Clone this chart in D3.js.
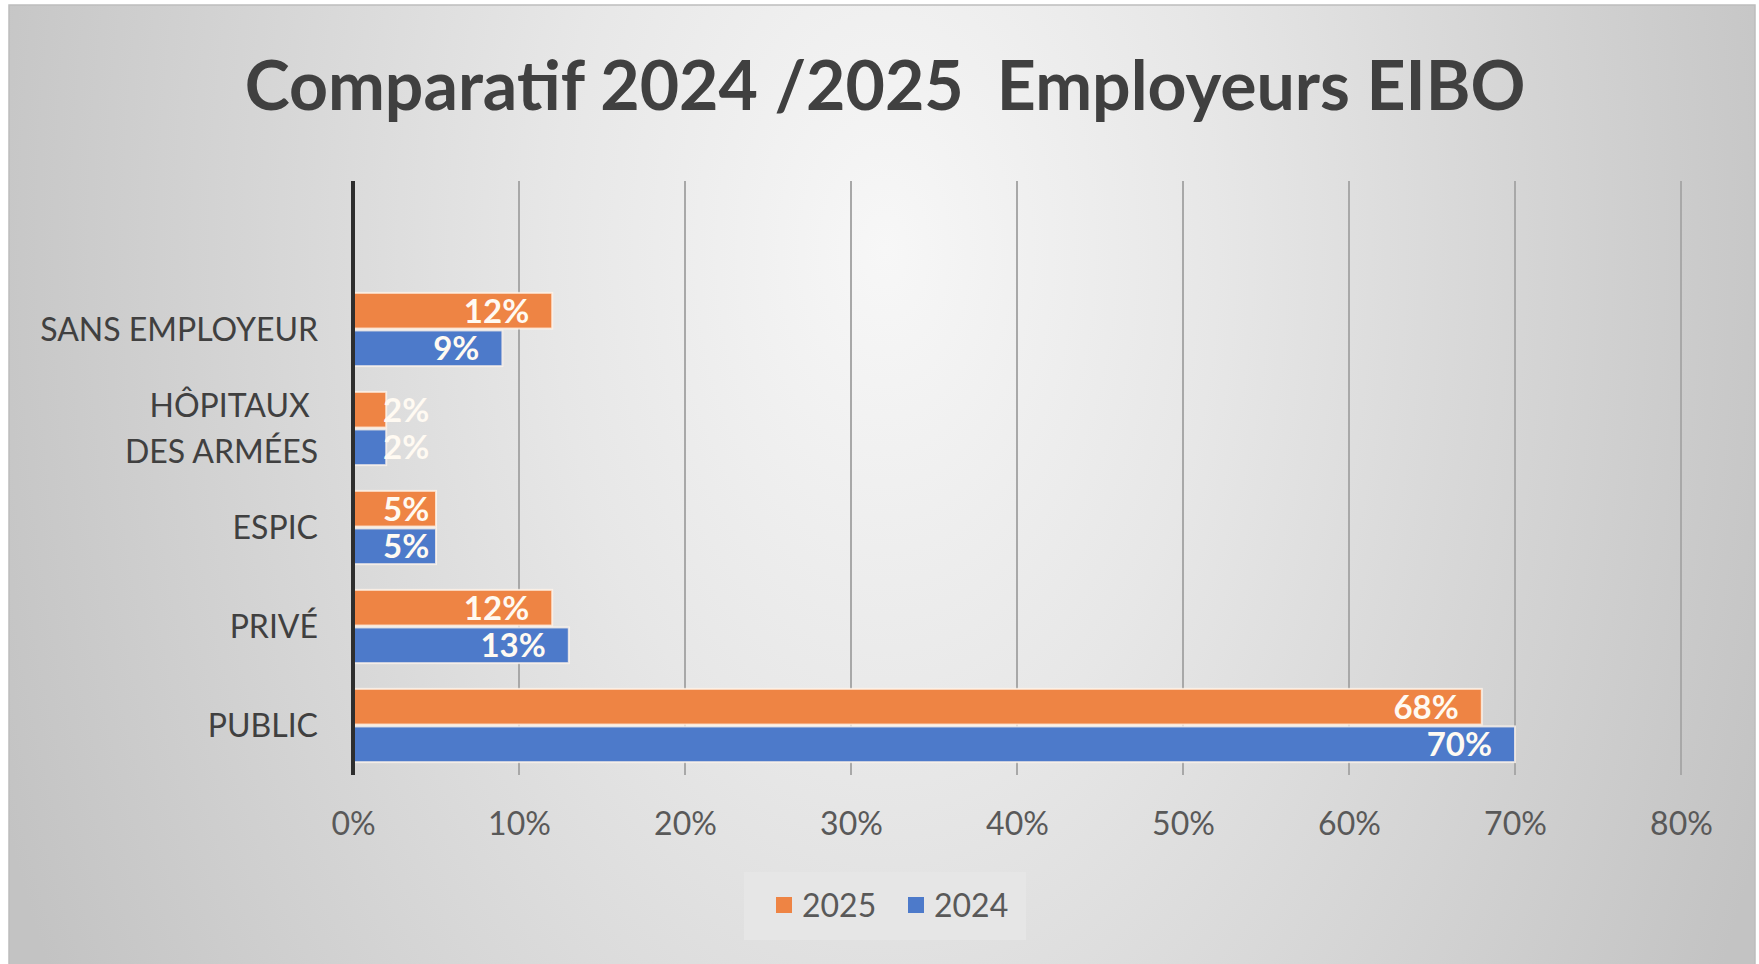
<!DOCTYPE html>
<html>
<head>
<meta charset="utf-8">
<script src="https://cdn.jsdelivr.net/npm/d3@7"></script>
<style>
  html, body { margin: 0; padding: 0; background: #ffffff; }
  svg { display: block; }
  text { font-family: Lato, "Open Sans", sans-serif; }
</style>
</head>
<body>
<svg id="chart" width="1759" height="964"></svg>
<script>
// ---- data ----
const title = "Comparatif 2024 /2025  Employeurs EIBO";
const categories = ["PUBLIC", "PRIVÉ", "ESPIC", "HÔPITAUX \nDES ARMÉES", "SANS EMPLOYEUR"];
const seriesNames = ["2025", "2024"];
const values2025 = [68, 12, 5, 2, 12];
const values2024 = [70, 13, 5, 2, 9];
const xTicks = [0, 10, 20, 30, 40, 50, 60, 70, 80];
const colors = { "2025": "#EE8444", "2024": "#4D7ACA" };

// ---- layout ----
const W = 1759, H = 964;
const svg = d3.select("#chart");
const defs = svg.append("defs");
const grad = defs.append("radialGradient").attr("id", "bg")
  .attr("gradientUnits", "userSpaceOnUse")
  .attr("cx", 885).attr("cy", 250).attr("r", 950)
  .attr("gradientTransform", "translate(885,250) scale(1,1.6) translate(-885,-250)");
grad.append("stop").attr("offset", 0).attr("stop-color", "#f7f7f7");
grad.append("stop").attr("offset", 0.35).attr("stop-color", "#e7e7e7");
grad.append("stop").attr("offset", 0.6).attr("stop-color", "#d9d9d9");
grad.append("stop").attr("offset", 1).attr("stop-color", "#c3c3c3");

svg.append("rect").attr("x", 9).attr("y", 5).attr("width", 1746).attr("height", 962)
  .attr("fill", "url(#bg)").attr("stroke", "#bdbdbd").attr("stroke-width", 1.5);

const plot = { left: 353, right: 1681, top: 181, bottom: 775 };
const step = (plot.bottom - plot.top) / 6; // one empty slot at the top

const x = d3.scaleLinear().domain([0, 80]).range([plot.left, plot.right]);
const y = d3.scaleBand().domain(categories)
  .range([plot.bottom, plot.top + step]).paddingInner(0.26).paddingOuter(0.13);
const ySub = d3.scaleBand().domain(seriesNames).range([0, y.bandwidth()]).paddingInner(0.05);

// title
const t = svg.append("text").attr("x", 885).attr("y", 110)
  .attr("text-anchor", "middle").attr("font-weight", 700)
  .attr("font-size", 66).attr("fill", "#404040")
  .style("white-space", "pre").text(title);
const tw = t.node().getComputedTextLength();
t.attr("font-size", 66 * 1281 / tw);

// gridlines
svg.append("g").selectAll("line").data(xTicks.filter(d => d > 0)).join("line")
  .attr("x1", d => x(d)).attr("x2", d => x(d))
  .attr("y1", plot.top).attr("y2", plot.bottom)
  .attr("stroke", "#a8a8a8").attr("stroke-width", 2);

// x axis tick labels
const xAxis = d3.axisBottom(x).tickValues(xTicks).tickFormat(d => d + "%").tickSize(0).tickPadding(0);
const gx = svg.append("g").attr("transform", `translate(0,${plot.bottom})`).call(xAxis);
gx.select(".domain").remove();
gx.selectAll("text").attr("font-size", 32).attr("fill", "#595959")
  .attr("dy", null).attr("y", 60).style("font-family", "Lato, sans-serif");

// bars
const rows = categories.map((c, i) => ({ cat: c, vals: [
  { s: "2025", v: values2025[i] }, { s: "2024", v: values2024[i] }] }));

const groups = svg.append("g").selectAll("g").data(rows).join("g")
  .attr("transform", d => `translate(0,${y(d.cat)})`);

groups.selectAll("rect").data(d => d.vals).join("rect")
  .attr("x", x(0)).attr("y", d => ySub(d.s))
  .attr("width", d => x(d.v) - x(0)).attr("height", ySub.bandwidth())
  .attr("fill", d => colors[d.s])
  .attr("stroke", "rgba(255,245,235,0.8)").attr("stroke-width", 2);

groups.selectAll("text").data(d => d.vals).join("text")
  .attr("y", d => ySub(d.s) + ySub.bandwidth() / 2)
  .attr("dy", "0.36em").attr("text-anchor", "end")
  .attr("font-size", 33).attr("font-weight", 700).attr("fill", "#fffaf2")
  .text(d => d.v + "%")
  .each(function (d) {
    const w = this.getComputedTextLength();
    const xr = Math.max(x(d.v) - 23, x(0) + 30 + w);
    d3.select(this).attr("x", xr);
  });

// y axis line
svg.append("line").attr("x1", plot.left).attr("x2", plot.left)
  .attr("y1", plot.top).attr("y2", plot.bottom)
  .attr("stroke", "#2e2e2e").attr("stroke-width", 4);

// category labels
const labG = svg.append("g");
categories.forEach(c => {
  const lines = c.split("\n");
  const cy = y(c) + y.bandwidth() / 2;
  const lh = 46;
  const tx = labG.append("text").attr("text-anchor", "end")
    .attr("font-size", 32).attr("fill", "#404040").style("white-space", "pre");
  lines.forEach((ln, i) => {
    tx.append("tspan").attr("x", 318)
      .attr("y", cy + (i - (lines.length - 1) / 2) * lh)
      .attr("dy", "0.36em").text(ln);
  });
});

// legend
const lg = svg.append("g");
lg.append("rect").attr("x", 744).attr("y", 872).attr("width", 282).attr("height", 68)
  .attr("fill", "#e6e6e6");
const legendItems = [{ s: "2025", x: 776 }, { s: "2024", x: 908 }];
legendItems.forEach(it => {
  lg.append("rect").attr("x", it.x).attr("y", 897).attr("width", 16).attr("height", 16)
    .attr("fill", colors[it.s]);
  lg.append("text").attr("x", it.x + 26).attr("y", 905).attr("dy", "0.36em")
    .attr("font-size", 32).attr("fill", "#595959").text(it.s);
});
</script>
</body>
</html>
